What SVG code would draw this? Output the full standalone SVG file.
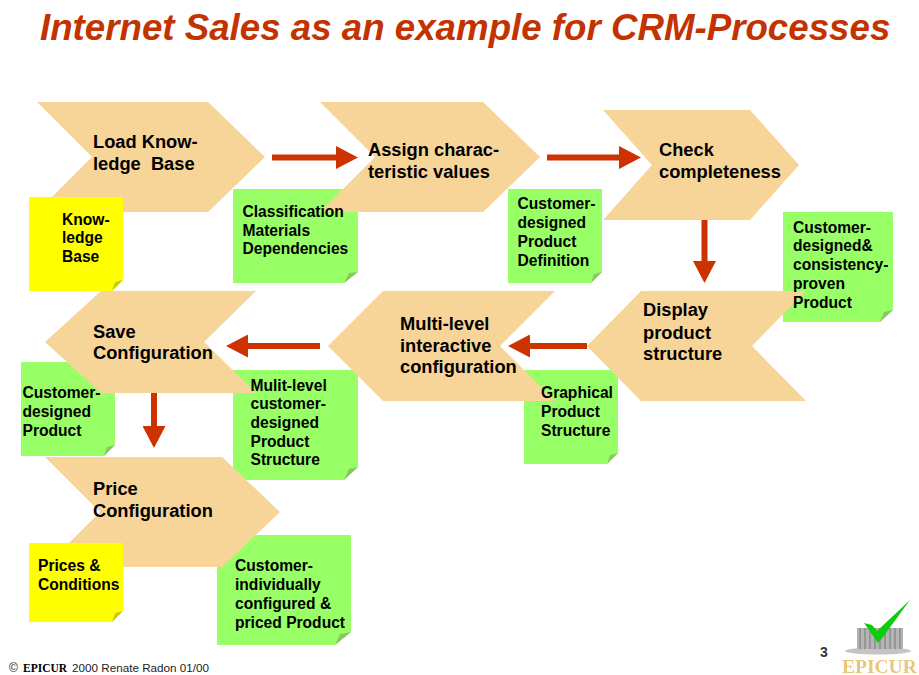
<svg xmlns="http://www.w3.org/2000/svg" width="919" height="675" viewBox="0 0 919 675">
<style>
text{font-family:"Liberation Sans",Arial,sans-serif;font-weight:bold;fill:#000}
.title{font-size:36.7px;font-style:italic;fill:#c33300}
.chev{fill:#f7d598}
.step{font-size:18.3px;white-space:pre}
.note{font-size:15.6px}
.green{fill:#99ff66}
.yellow{fill:#ffff00}
.gfold{fill:#88c860}
.yfold{fill:#cccc00}
.conn{stroke:#cc3300;stroke-width:6;fill:none;marker-end:url(#head)}
</style>
<defs>
<marker id="head" markerUnits="userSpaceOnUse" markerWidth="22" markerHeight="23" refX="0" refY="11.5" orient="auto">
<path d="M0 0L22 11.5L0 23Z" fill="#cc3300"/>
</marker>
<filter id="soft" x="-10%" y="-10%" width="120%" height="120%"><feGaussianBlur stdDeviation="0.6"/></filter>
</defs>
<rect width="919" height="675" fill="#fff"/>
<text class="title" x="40" y="40">Internet Sales as an example for CRM-Processes</text>

<g id="note-classification">
<path class="green" d="M233 189H358V272L344 283H233Z"/><path class="gfold" d="M358 272L344 283L349 273Z"/>
</g>
<g id="note-definition">
<path class="green" d="M508 189H602V272L591 283H508Z"/><path class="gfold" d="M602 272L591 283L594 274Z"/>
</g>
<g id="note-consistency">
<path class="green" d="M783 212H893V310L880 322H783Z"/><path class="gfold" d="M893 310L880 322L884 312Z"/>
</g>
<g id="note-graphical">
<path class="green" d="M524 370H618V453L607 464H524Z"/><path class="gfold" d="M618 453L607 464L610 455Z"/>
</g>
<g id="note-multilevel">
<path class="green" d="M233 370H358V467L344 480H233Z"/><path class="gfold" d="M358 467L344 480L349 469Z"/>
</g>
<g id="note-designed">
<path class="green" d="M21 362H115V445L104 456H21Z"/><path class="gfold" d="M115 445L104 456L107 447Z"/>
</g>
<g id="note-priced">
<path class="green" d="M217 535H351V632L335 645H217Z"/><path class="gfold" d="M351 632L335 645L340 634Z"/>
</g>

<g id="step-load"><polygon class="chev" points="37,102 208,102 265,157 208,212 37,212 92,157"/></g>
<g id="step-assign"><polygon class="chev" points="320,102 483,102 540,157 483,212 320,212 375,157"/></g>
<g id="step-check"><polygon class="chev" points="603,110 750,110 799,165 750,220 603,220 652,165"/></g>
<g id="step-display"><polygon class="chev" points="587,346 641,291 806,291 752,346 806,401 641,401"/></g>
<g id="step-multilevel"><polygon class="chev" points="328,346 383,291 555,291 500,346 555,401 383,401"/></g>
<g id="step-save"><polygon class="chev" points="45,342 101,291 256,291 204,342 256,393 101,393"/></g>
<g id="step-price"><polygon class="chev" points="45,457 222,457 280,512 222,567 45,567 100,512"/></g>

<g id="note-prices">
<path class="yellow" d="M29 543H123V611L112 622H29Z"/><path class="yfold" d="M123 611L112 622L115 613Z"/>
</g>
<g id="note-knowledge-base">
<path class="yellow" d="M29 197H123V280L112 291H29Z"/><path class="yfold" d="M123 280L112 291L115 282Z"/>
</g>

<g id="connectors">
<line class="conn" x1="272" y1="157.5" x2="336" y2="157.5"/>
<line class="conn" x1="547" y1="157.5" x2="619" y2="157.5"/>
<line class="conn" x1="704.5" y1="220" x2="704.5" y2="261"/>
<line class="conn" x1="587" y1="346" x2="530" y2="346"/>
<line class="conn" x1="320" y1="346" x2="248" y2="346"/>
<line class="conn" x1="154" y1="393" x2="154" y2="426"/>
</g>

<g id="labels">
<text class="step" x="93" y="148">Load Know-</text><text class="step" x="93" y="170">ledge  Base</text>
<text class="step" x="368" y="156">Assign charac-</text><text class="step" x="368" y="178">teristic values</text>
<text class="step" x="659" y="156">Check</text><text class="step" x="659" y="178">completeness</text>
<text class="step" x="643" y="316">Display</text><text class="step" x="643" y="339">product</text><text class="step" x="643" y="360">structure</text>
<text class="step" x="400" y="330">Multi-level</text><text class="step" x="400" y="352">interactive</text><text class="step" x="400" y="373">configuration</text>
<text class="step" x="93" y="338">Save</text><text class="step" x="93" y="359">Configuration</text>
<text class="step" x="93" y="495">Price</text><text class="step" x="93" y="517">Configuration</text>

<text class="note" x="62" y="225">Know-</text><text class="note" x="62" y="243">ledge</text><text class="note" x="62" y="262">Base</text>
<text class="note" x="242.5" y="217">Classification</text><text class="note" x="242.5" y="236">Materials</text><text class="note" x="242.5" y="254">Dependencies</text>
<text class="note" x="517.5" y="209">Customer-</text><text class="note" x="517.5" y="228">designed</text><text class="note" x="517.5" y="247">Product</text><text class="note" x="517.5" y="266">Definition</text>
<text class="note" x="793" y="233">Customer-</text><text class="note" x="793" y="251">designed&amp;</text><text class="note" x="793" y="270">consistency-</text><text class="note" x="793" y="289">proven</text><text class="note" x="793" y="308">Product</text>
<text class="note" x="541" y="398">Graphical</text><text class="note" x="541" y="417">Product</text><text class="note" x="541" y="436">Structure</text>
<text class="note" x="250.5" y="391">Mulit-level</text><text class="note" x="250.5" y="409">customer-</text><text class="note" x="250.5" y="428">designed</text><text class="note" x="250.5" y="447">Product</text><text class="note" x="250.5" y="465">Structure</text>
<text class="note" x="22.5" y="398">Customer-</text><text class="note" x="22.5" y="417">designed</text><text class="note" x="22.5" y="436">Product</text>
<text class="note" x="38" y="571">Prices &amp;</text><text class="note" x="38" y="590">Conditions</text>
<text class="note" x="235" y="571">Customer-</text><text class="note" x="235" y="590">individually</text><text class="note" x="235" y="609">configured &amp;</text><text class="note" x="235" y="628">priced Product</text>
</g>

<text x="9" y="672" style="font-size:12px;font-weight:normal;fill:#222">©</text>
<text x="23" y="672" style="font-size:11.5px;font-family:'Liberation Serif',serif">EPICUR</text>
<text x="72" y="672" style="font-size:11.7px;font-weight:normal;fill:#222">2000 Renate Radon 01/00</text>
<text x="820" y="657" style="font-size:14px;fill:#333">3</text>

<g id="logo" filter="url(#soft)">
<ellipse cx="878" cy="651" rx="33" ry="3.5" fill="#c4c4c4"/>
<rect x="857" y="628" width="46" height="21" fill="#b4b4b4"/>
<path d="M860 628V649M865 628V649M870 628V649M875 628V649M880 628V649M885 628V649M890 628V649M895 628V649M900 628V649" stroke="#8c8c8c" stroke-width="1.5"/>
<polygon points="864,623 872,625 877,631 910,600 883,637 878,643" fill="#11cc11"/>
<text x="842" y="673" style="font-size:19.5px;font-family:'Liberation Serif',serif;fill:#e8c878">EPICUR</text>
</g>
</svg>
